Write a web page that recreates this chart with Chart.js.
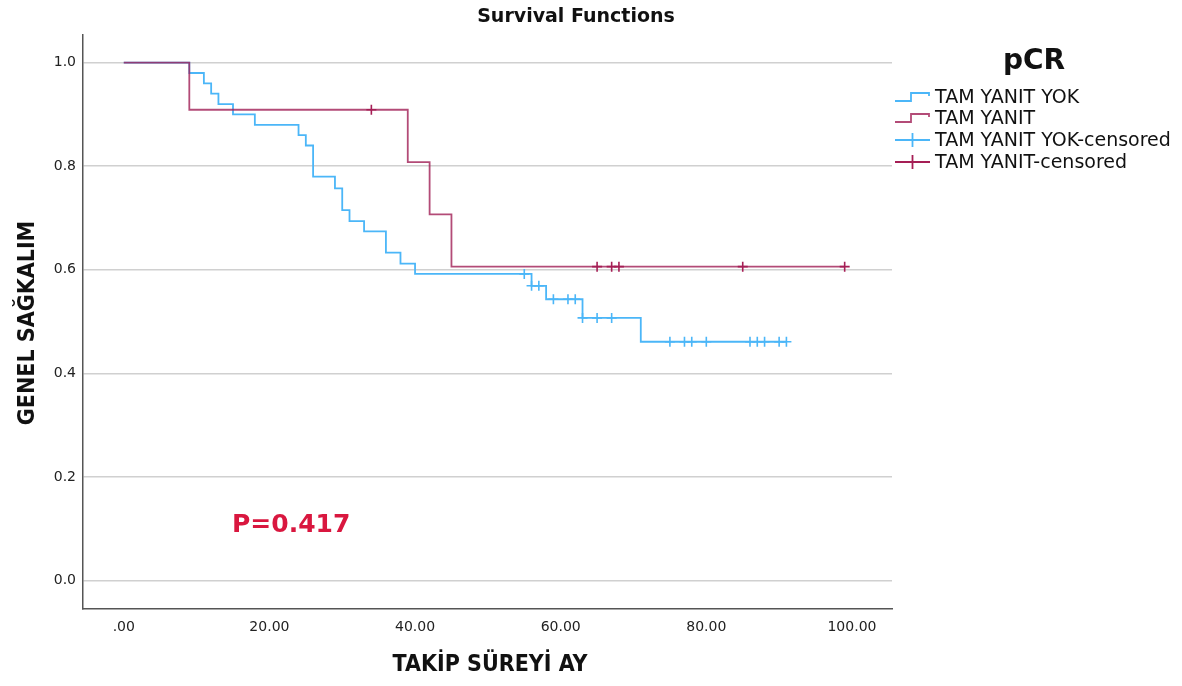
<!DOCTYPE html>
<html>
<head>
<meta charset="utf-8">
<script src="https://cdn.jsdelivr.net/npm/chart.js@4.4.1/dist/chart.umd.min.js"></script>
<style>
    html, body { margin: 0; padding: 0; background: #fff; }
    #km-chart { display: block; }
</style>
</head>
<body>
<canvas id="km-chart" width="1182" height="686"></canvas>
<script>
// Kaplan-Meier steps: event time (months) and survival after the event
const yokTimes = [0, 9, 11, 12, 13, 15, 18, 24, 25, 26, 29, 30, 31, 33, 36, 38, 40, 56, 58, 63, 71, 91];
const yokSurv = [1.0, 0.98, 0.96, 0.94, 0.92, 0.90, 0.88, 0.86, 0.84, 0.78, 0.757, 0.715, 0.694, 0.674, 0.633, 0.612, 0.592, 0.569, 0.543, 0.507, 0.461, 0.461];
const tamTimes = [0, 9, 39, 42, 45, 99];
const tamSurv = [1.0, 0.909, 0.808, 0.707, 0.606, 0.606];

// censored cases
const yokCensTimes = [55, 56, 57, 59, 61, 62, 63, 65, 67, 75, 77, 78, 80, 86, 87, 88, 90, 91];
const yokCensSurv = [0.592, 0.569, 0.569, 0.543, 0.543, 0.543, 0.507, 0.507, 0.507, 0.461, 0.461, 0.461, 0.461, 0.461, 0.461, 0.461, 0.461, 0.461];
const tamCensTimes = [34, 65, 67, 68, 85, 99];
const tamCensSurv = [0.909, 0.606, 0.606, 0.606, 0.606, 0.606];

const xTicks = [0, 20, 40, 60, 80, 100];
const xTickLabels = ['.00', '20.00', '40.00', '60.00', '80.00', '100.00'];
const yTicks = [0, 0.2, 0.4, 0.6, 0.8, 1.0];
const yTickLabels = ['0.0', '0.2', '0.4', '0.6', '0.8', '1.0'];

const groupNames = ['TAM YANIT YOK', 'TAM YANIT'];
const pValueText = 'P=0.417';

const BLUE = 'rgb(75, 182, 248)';
const RED = 'rgba(160, 30, 85, 0.8)';
const RED_MARK = 'rgb(165, 30, 85)';

function toPoints(xs, ys) {
    return xs.map((x, i) => ({ x: x, y: ys[i] }));
}

// titles, legend and p value
const annotations = {
    id: 'annotations',
    afterDraw(chart) {
        const ctx = chart.ctx;
        ctx.save();
        ctx.fillStyle = '#111';
        ctx.textBaseline = 'middle';

        ctx.textAlign = 'center';
        ctx.font = 'bold 19px "DejaVu Sans"';
        ctx.fillText('Survival Functions', 576, 17);

        ctx.font = 'bold 23px "DejaVu Sans Condensed", "DejaVu Sans"';
        ctx.fillText('TAKİP SÜREYİ AY', 490, 665);

        ctx.save();
        ctx.translate(28, 323);
        ctx.rotate(-Math.PI / 2);
        ctx.fillText('GENEL SAĞKALIM', 0, 0);
        ctx.restore();

        // legend
        ctx.font = 'bold 28px "DejaVu Sans"';
        ctx.fillText('pCR', 1034, 62);

        const rows = [97, 118, 140, 162];
        const labels = [groupNames[0], groupNames[1], groupNames[0] + '-censored', groupNames[1] + '-censored'];
        const colors = [BLUE, RED, BLUE, RED_MARK];
        ctx.font = '19px "DejaVu Sans"';
        ctx.textAlign = 'left';
        rows.forEach((y, i) => {
            ctx.strokeStyle = colors[i];
            ctx.lineWidth = 1.8;
            ctx.beginPath();
            if (i < 2) {
                ctx.moveTo(895, y + 4);
                ctx.lineTo(911, y + 4);
                ctx.lineTo(911, y - 4);
                ctx.lineTo(929, y - 4);
                ctx.lineTo(929, y - 1);
            } else {
                ctx.moveTo(895, y);
                ctx.lineTo(930, y);
                ctx.moveTo(912.5, y - 7);
                ctx.lineTo(912.5, y + 7);
            }
            ctx.stroke();
            ctx.fillStyle = '#111';
            ctx.fillText(labels[i], 935, y + 1);
        });

        ctx.fillStyle = '#d9173f';
        ctx.font = 'bold 25px "DejaVu Sans"';
        ctx.fillText(pValueText, 232, 525);
        ctx.restore();
    }
};

const ctx = document.getElementById('km-chart').getContext('2d');

window.kmChart = new Chart(ctx, {
    type: 'line',
    data: {
        datasets: [
            {
                label: groupNames[1] + '-censored',
                data: toPoints(tamCensTimes, tamCensSurv),
                showLine: false,
                pointStyle: 'cross',
                pointRadius: 5,
                pointBorderWidth: 1.6,
                borderColor: RED_MARK
            },
            {
                label: groupNames[0] + '-censored',
                data: toPoints(yokCensTimes, yokCensSurv),
                showLine: false,
                pointStyle: 'cross',
                pointRadius: 5,
                pointBorderWidth: 1.6,
                borderColor: BLUE
            },
            {
                label: groupNames[1],
                data: toPoints(tamTimes, tamSurv),
                stepped: 'before',
                borderColor: RED,
                borderWidth: 1.8,
                pointRadius: 0,
                fill: false
            },
            {
                label: groupNames[0],
                data: toPoints(yokTimes, yokSurv),
                stepped: 'before',
                borderColor: BLUE,
                borderWidth: 1.8,
                pointRadius: 0,
                fill: false
            }
        ]
    },
    options: {
        responsive: false,
        animation: false,
        layout: {
            padding: { top: 35, right: 290, left: 0, bottom: 0 }
        },
        plugins: {
            legend: { display: false },
            tooltip: { enabled: false },
            title: { display: false }
        },
        scales: {
            x: {
                type: 'linear',
                min: -5.6,
                max: 105.5,
                afterFit: function(scale) { scale.height = 77; },
                afterBuildTicks: function(scale) {
                    scale.ticks = xTicks.map(v => ({ value: v }));
                },
                ticks: {
                    padding: 10,
                    color: '#222',
                    font: { family: 'DejaVu Sans', size: 14 },
                    maxRotation: 0,
                    callback: (value, index) => xTickLabels[index]
                },
                grid: { drawOnChartArea: false, drawTicks: false },
                border: { display: true, color: '#555', width: 1.5 }
            },
            y: {
                min: -0.0552,
                max: 1.0534,
                afterFit: function(scale) { scale.width = 83; },
                afterBuildTicks: function(scale) {
                    scale.ticks = yTicks.map(v => ({ value: v }));
                },
                ticks: {
                    padding: 7,
                    color: '#222',
                    font: { family: 'DejaVu Sans', size: 14 },
                    callback: (value, index) => yTickLabels[index]
                },
                grid: { color: '#d0d0d0', lineWidth: 1.6, drawTicks: false },
                border: { display: true, color: '#555', width: 1.5 }
            }
        }
    },
    plugins: [annotations]
});
</script>
</body>
</html>
